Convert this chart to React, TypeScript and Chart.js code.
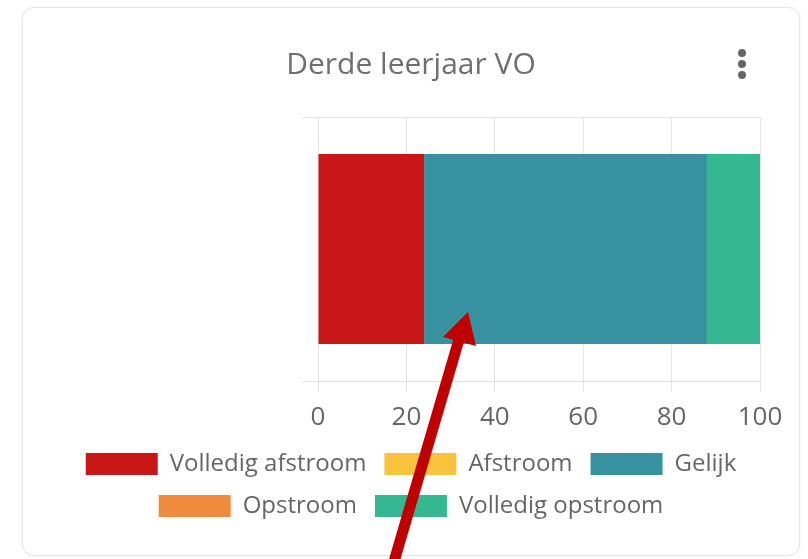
import React, { useEffect, useRef } from "react";
import { Chart, registerables } from "chart.js";

Chart.register(...registerables);

const TITLE = "Derde leerjaar VO";
const CATEGORIES: string[] = [""];
const SERIES_NAMES = ["Volledig afstroom", "Afstroom", "Gelijk", "Opstroom", "Volledig opstroom"];
const VOLLEDIG_AFSTROOM = [24];
const AFSTROOM = [0];
const GELIJK = [64];
const OPSTROOM = [0];
const VOLLEDIG_OPSTROOM = [12];
const SERIES_COLORS = ["#c91616", "#f8c23d", "#36929f", "#f08a3c", "#35b891"];
const X_TICKS = [0, 20, 40, 60, 80, 100];

const FONT = "'Open Sans', 'Noto Sans', sans-serif";

export default function App() {
  const canvasRef = useRef<HTMLCanvasElement | null>(null);

  useEffect(() => {
    document.body.style.margin = "0";
    const ctx = canvasRef.current;
    if (!ctx) return;
    const values = [VOLLEDIG_AFSTROOM, AFSTROOM, GELIJK, OPSTROOM, VOLLEDIG_OPSTROOM];
    const chart = new Chart(ctx, {
      type: "bar",
      data: {
        labels: CATEGORIES,
        datasets: SERIES_NAMES.map((name, i) => ({
          label: name,
          data: values[i],
          backgroundColor: SERIES_COLORS[i],
          borderWidth: 0,
        })),
      },
      options: {
        indexAxis: "y",
        animation: false,
        responsive: false,
        maintainAspectRatio: false,
        layout: { padding: { top: 0, left: 39, right: 39, bottom: 27 } },
        scales: {
          x: {
            stacked: true,
            min: 0,
            max: 100,
            afterBuildTicks: (scale: any) => {
              scale.ticks = X_TICKS.map((v) => ({ value: v }));
            },
            afterFit: (scale: any) => {
              scale.height = 53;
            },
            grid: { color: "#e4e4e4", tickLength: 11 },
            border: { color: "#e0e0e0" },
            ticks: {
              padding: 11,
              color: "#666",
              font: { family: FONT, size: 26, lineHeight: 1.115 },
            },
          },
          y: {
            stacked: true,
            grid: { color: "#e4e4e4", tickLength: 16 },
            border: { display: false },
            ticks: { display: false },
            afterFit: (scale: any) => {
              scale.width = 256;
            },
          },
        },
        plugins: {
          title: {
            display: true,
            text: TITLE,
            color: "#6f6f6f",
            font: { family: FONT, size: 30, weight: "normal", lineHeight: 1.2 },
            padding: { top: 39, bottom: 34 },
          },
          legend: {
            position: "bottom",
            labels: {
              boxWidth: 72,
              boxHeight: 22,
              padding: 18,
              color: "#666",
              font: { family: FONT, size: 24 },
            },
          },
          tooltip: { enabled: false },
        },
      },
    });
    return () => chart.destroy();
  }, []);

  const dot = (top: number): React.CSSProperties => ({
    position: "absolute",
    left: 738,
    top,
    width: 8,
    height: 8,
    borderRadius: "50%",
    background: "#666",
  });

  return (
    <div style={{ position: "relative", width: 808, height: 559, overflow: "hidden", background: "#fff" }}>
      <div
        style={{
          position: "absolute",
          left: 22,
          top: 7,
          width: 776,
          height: 547,
          border: "1px solid #e6e6e6",
          borderRadius: 12,
          boxShadow: "0 0 4px rgba(0,0,0,0.06)",
          background: "#fff",
        }}
      />
      <canvas
        ref={canvasRef}
        width={776}
        height={547}
        style={{ position: "absolute", left: 23, top: 8, width: 776, height: 547 }}
      />
      <div style={dot(49)} />
      <div style={dot(60)} />
      <div style={dot(71)} />
      <svg
        width={808}
        height={559}
        style={{ position: "absolute", left: 0, top: 0, pointerEvents: "none" }}
      >
        <line x1={393} y1={565} x2={460} y2={336} stroke="#be0000" strokeWidth={11} />
        <polygon points="468,312 443,337 476,346" fill="#be0000" />
      </svg>
    </div>
  );
}
